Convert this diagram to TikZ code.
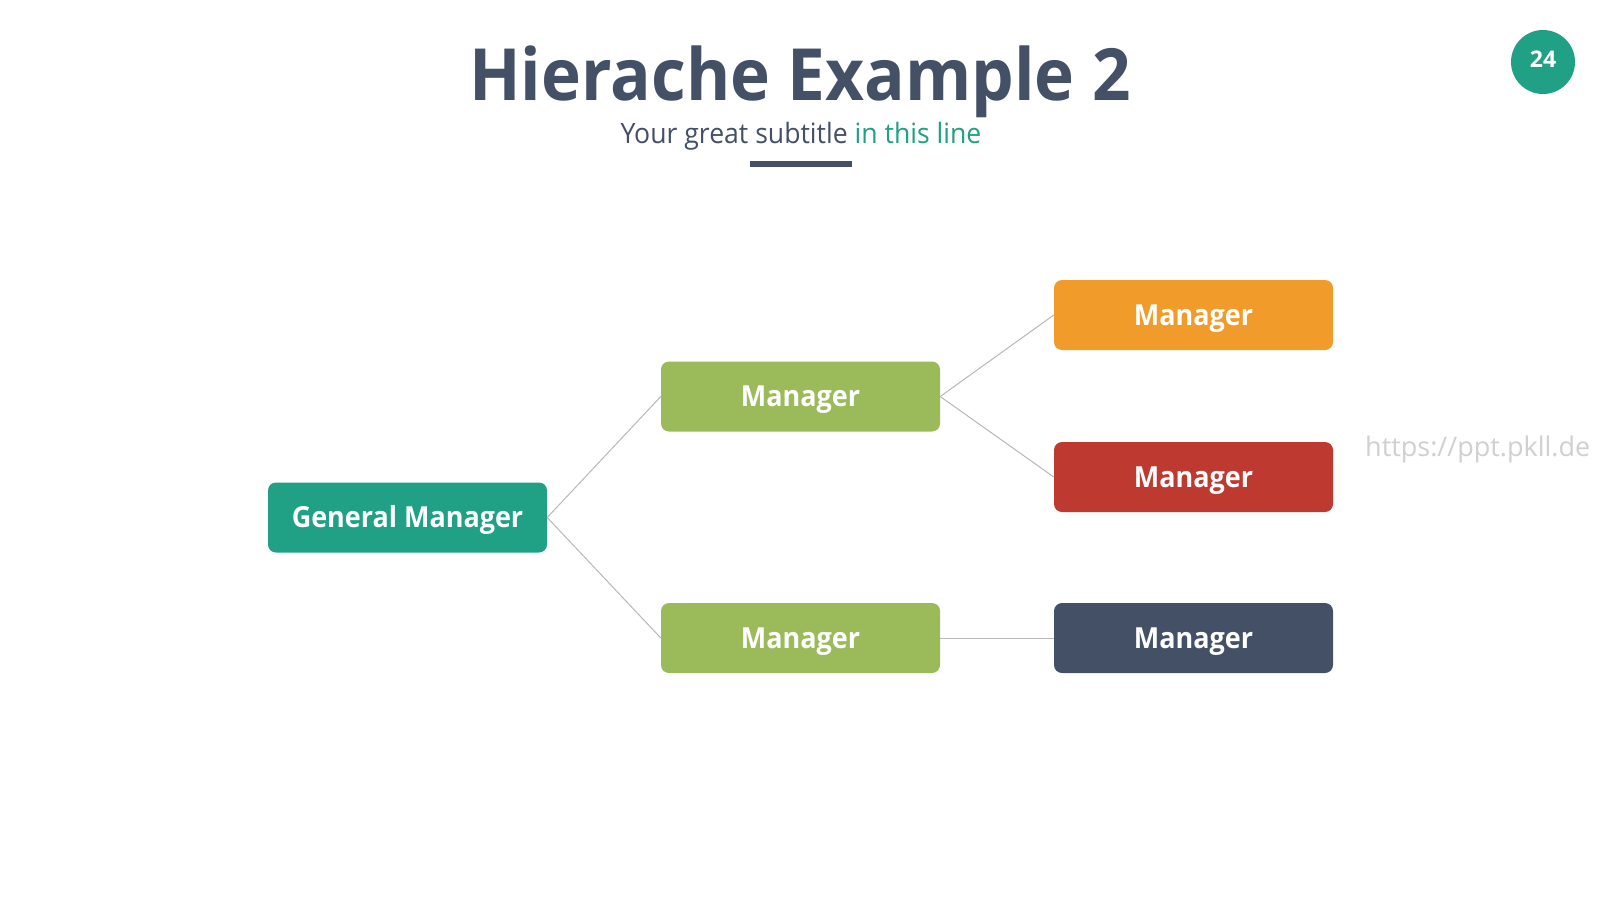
\documentclass[tikz,border=0pt]{standalone}
\usepackage{graphicx}
\usepackage{fontspec}
\setmainfont{Open Sans}
\definecolor{slate}{HTML}{435066}
\definecolor{teal}{HTML}{20A084}
\definecolor{leaf}{HTML}{9BBB5A}
\definecolor{amber}{HTML}{F19C2A}
\definecolor{brick}{HTML}{BE3A31}
\definecolor{wire}{HTML}{B8B8B8}
\definecolor{mark}{HTML}{D0D0D0}
\newcommand\hsq[2]{\scalebox{#1}[1]{#2}}
\newcommand\boxtext[1]{\raisebox{-10pt}[0pt][0pt]{\hsq{0.93}{#1}}}
\tikzset{
  box/.style={rounded corners=8pt, minimum width=279pt, minimum height=70pt, inner sep=0pt,
    text=white, font=\fontsize{29}{32}\selectfont\bfseries},
  link/.style={draw=wire, line width=1pt}
}
\begin{document}
\begin{tikzpicture}[x=1pt,y=-1pt]
\useasboundingbox (0,0) rectangle (1600,900);
\fill[white] (0,0) rectangle (1600,900);
% title
\node[anchor=base, text=slate, font=\fontsize{72}{80}\selectfont\bfseries, inner sep=0pt] (title) at (800,100) {\hsq{0.937}{Hierache Example 2}};
\node[anchor=base, text=slate, font=\fontsize{28}{32}\selectfont, inner sep=0pt] (sub) at (801,143) {\hsq{0.95}{Your great subtitle \textcolor{teal}{in this line}}};
\fill[slate] (750,161) rectangle (852,167);
% badge
\node[circle, fill=teal, minimum size=64pt, inner sep=0pt, text=white, font=\fontsize{23}{24}\selectfont\bfseries] (badge) at (1543,62) {\raisebox{-5pt}[0pt][0pt]{24}};
% watermark
\node[anchor=west, text=mark, font=\fontsize{27}{28}\selectfont, inner sep=0pt] (wm) at (1365,449) {https://ppt.pkll.de};
% boxes
\node[box, fill=teal] (gm) at (407.5,517.5) {\boxtext{General Manager}};
\node[box, fill=leaf] (m1) at (800.5,396.5) {\boxtext{Manager}};
\node[box, fill=leaf] (m2) at (800.5,638) {\boxtext{Manager}};
\node[box, fill=amber] (r1) at (1193.5,315) {\boxtext{Manager}};
\node[box, fill=brick] (r2) at (1193.5,477) {\boxtext{Manager}};
\node[box, fill=slate] (r3) at (1193.5,638) {\boxtext{Manager}};
% links
\draw[link] (gm.east) -- (m1.west);
\draw[link] (gm.east) -- (m2.west);
\draw[link] (m1.east) -- (r1.west);
\draw[link] (m1.east) -- (r2.west);
\draw[link] (m2.east) -- (r3.west);
\end{tikzpicture}
\end{document}
